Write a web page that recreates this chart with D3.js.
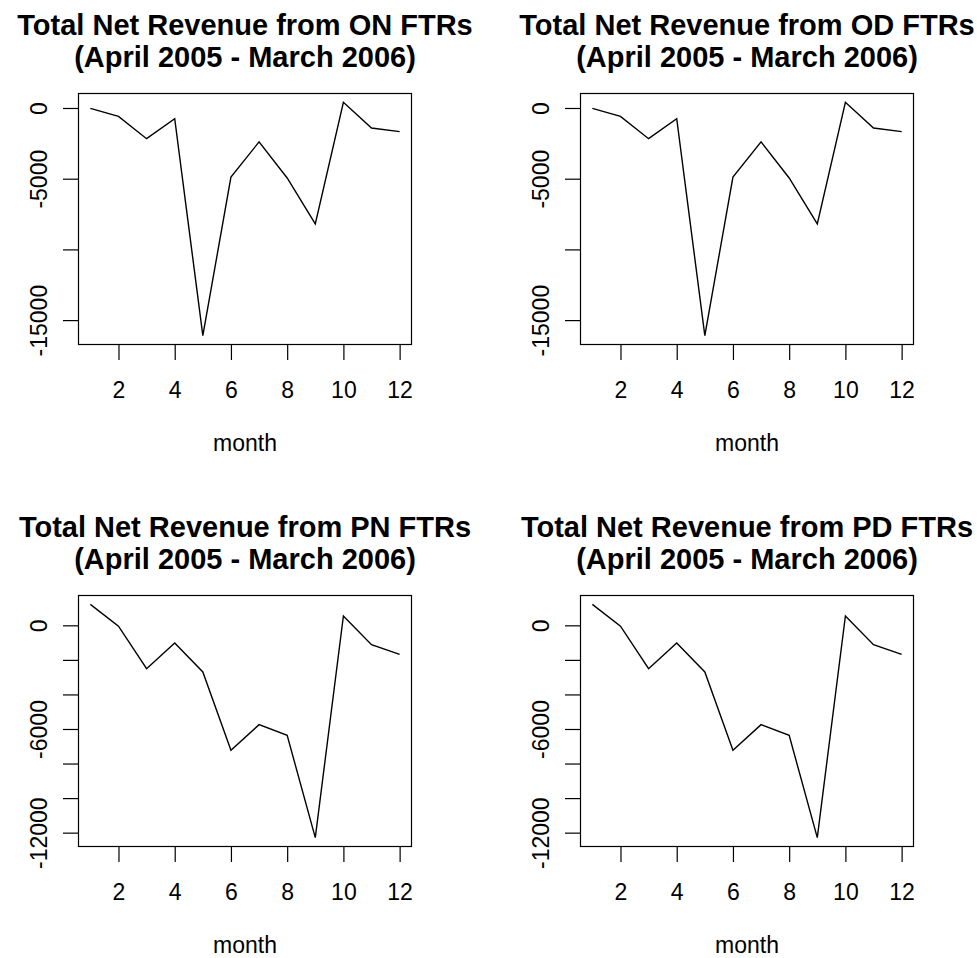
<!DOCTYPE html>
<html>
<head>
<meta charset="utf-8">
<script src="https://cdn.jsdelivr.net/npm/d3@7"></script>
<style>
  body { margin: 0; background: #fff; }
  svg { display: block; }
  text { font-family: "Liberation Sans", Arial, sans-serif; fill: #000; }
</style>
</head>
<body>
<svg id="chart" width="977" height="958"></svg>
<script>
// ---- data ----
const months = [1, 2, 3, 4, 5, 6, 7, 8, 9, 10, 11, 12];
const onValues = [-30, -590, -2170, -755, -16100, -4885, -2400, -4950, -8190, 400, -1415, -1675];
const odValues = [-30, -590, -2170, -755, -16100, -4885, -2400, -4950, -8190, 400, -1415, -1675];
const pnValues = [1215, -50, -2510, -1020, -2700, -7230, -5750, -6370, -12290, 540, -1120, -1680];
const pdValues = [1215, -50, -2510, -1020, -2700, -7230, -5750, -6370, -12290, 540, -1120, -1680];

const titleLine1 = ["Total Net Revenue from ON FTRs", "Total Net Revenue from OD FTRs",
                    "Total Net Revenue from PN FTRs", "Total Net Revenue from PD FTRs"];
const titleLine2 = "(April 2005 - March 2006)";
const xLabel = "month";

const xTicks = [2, 4, 6, 8, 10, 12];
const yTicksTop = [0, -5000, -10000, -15000];
const yTickLabelsTop = ["0", "-5000", "", "-15000"];
const yTicksBottom = [0, -2000, -4000, -6000, -8000, -10000, -12000];
const yTickLabelsBottom = ["0", "", "", "-6000", "", "", "-12000"];

// ---- layout ----
const svg = d3.select("#chart");
const boxL = 78, boxT = 93, boxW = 334, boxH = 252;
const step = 502;
const tickLen = 15;
const labelSize = 23, titleSize = 29;

const panels = [
  { values: onValues, title: titleLine1[0], col: 0, row: 0, yt: yTicksTop, yl: yTickLabelsTop },
  { values: odValues, title: titleLine1[1], col: 1, row: 0, yt: yTicksTop, yl: yTickLabelsTop },
  { values: pnValues, title: titleLine1[2], col: 0, row: 1, yt: yTicksBottom, yl: yTickLabelsBottom },
  { values: pdValues, title: titleLine1[3], col: 1, row: 1, yt: yTicksBottom, yl: yTickLabelsBottom }
];

panels.forEach(p => {
  const L = boxL + p.col * step, T = boxT + p.row * step;
  const R = L + boxW, B = T + boxH;
  const g = svg.append("g");

  const xr = d3.extent(months), xp = 0.04 * (xr[1] - xr[0]);
  const x = d3.scaleLinear().domain([xr[0] - xp, xr[1] + xp]).range([L, R]);
  const yr = d3.extent(p.values), yp = 0.04 * (yr[1] - yr[0]);
  const y = d3.scaleLinear().domain([yr[0] - yp, yr[1] + yp]).range([B, T]);

  // line
  g.append("path")
    .datum(months.map((m, i) => [m, p.values[i]]))
    .attr("fill", "none")
    .attr("stroke", "#000")
    .attr("stroke-width", 1.4)
    .attr("stroke-linejoin", "miter")
    .attr("d", d3.line().x(d => x(d[0])).y(d => y(d[1])));

  // x axis
  const xa = g.append("g").attr("transform", `translate(0,${B})`)
    .call(d3.axisBottom(x).tickValues(xTicks).tickSize(tickLen).tickSizeOuter(0)
      .tickPadding(0).tickFormat(d3.format("d")));
  xa.select(".domain").remove();
  xa.selectAll("line").attr("stroke", "#000").attr("stroke-width", 1.2);
  xa.selectAll("text").attr("y", 53).attr("dy", null)
    .attr("font-size", labelSize).attr("font-family", "Liberation Sans, Arial, sans-serif").attr("fill", "#000");

  // y axis
  const ya = g.append("g").attr("transform", `translate(${L},0)`)
    .call(d3.axisLeft(y).tickValues(p.yt).tickSize(tickLen).tickSizeOuter(0)
      .tickFormat((d, i) => p.yl[i]));
  ya.select(".domain").remove();
  ya.selectAll("line").attr("stroke", "#000").attr("stroke-width", 1.2);
  ya.selectAll("text")
    .attr("x", null).attr("dy", null)
    .attr("text-anchor", "middle")
    .attr("transform", "translate(-31,0) rotate(-90)")
    .attr("font-size", labelSize).attr("font-family", "Liberation Sans, Arial, sans-serif").attr("fill", "#000");

  // box
  g.append("rect")
    .attr("x", L + 0.5).attr("y", T + 0.5)
    .attr("width", boxW - 1).attr("height", boxH - 1)
    .attr("fill", "none").attr("stroke", "#000").attr("stroke-width", 1.2);

  // x label
  g.append("text").attr("x", (L + R) / 2).attr("y", B + 106)
    .attr("text-anchor", "middle").attr("font-size", labelSize).text(xLabel);

  // title
  g.append("text").attr("x", (L + R) / 2).attr("y", T - 58)
    .attr("text-anchor", "middle").attr("font-size", titleSize).attr("font-weight", "bold").text(p.title);
  g.append("text").attr("x", (L + R) / 2).attr("y", T - 26)
    .attr("text-anchor", "middle").attr("font-size", titleSize).attr("font-weight", "bold").text(titleLine2);
});
</script>
</body>
</html>
